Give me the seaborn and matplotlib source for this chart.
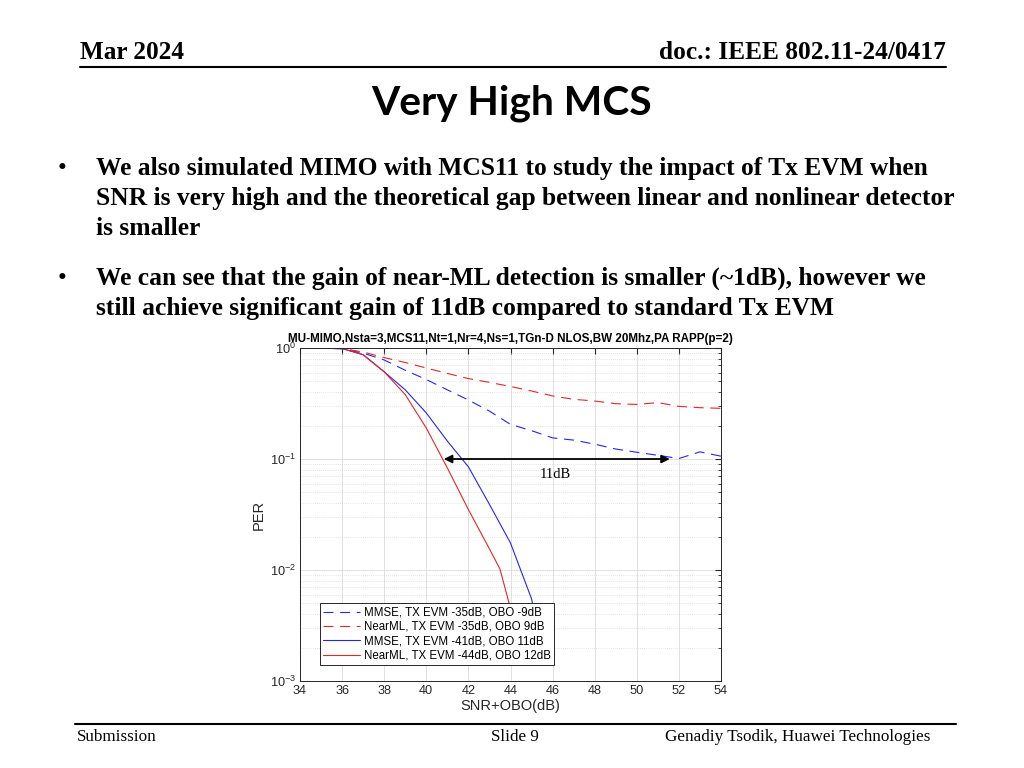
import matplotlib
matplotlib.use("Agg")
import matplotlib.pyplot as plt
import seaborn as sns
from matplotlib.lines import Line2D
from matplotlib.ticker import LogLocator, NullFormatter, FixedLocator

# PER curves
snr_mmse_35 = [34, 35, 36, 37, 38, 39, 40, 41, 42, 43, 44, 45, 46, 47, 48, 49, 50, 51, 52, 53, 54]
per_mmse_35 = [1.0, 1.0, 0.98, 0.9, 0.78, 0.63, 0.52, 0.42, 0.34, 0.27, 0.205, 0.18, 0.155, 0.148,
               0.136, 0.123, 0.115, 0.108, 0.101, 0.116, 0.106]

snr_nml_35 = [34, 35, 36, 37, 38, 39, 40, 41, 42, 43, 44, 45, 46, 47, 48, 49, 50, 51, 52, 53, 54]
per_nml_35 = [1.0, 1.0, 0.99, 0.92, 0.82, 0.74, 0.66, 0.59, 0.53, 0.49, 0.45, 0.41, 0.37, 0.345,
              0.333, 0.315, 0.31, 0.322, 0.298, 0.29, 0.286]

snr_mmse_41 = [34, 35, 36, 37, 38, 39, 40, 41, 42, 43, 44, 45, 45.5]
per_mmse_41 = [1.0, 1.0, 0.99, 0.87, 0.61, 0.42, 0.26, 0.145, 0.085, 0.039, 0.0175, 0.0055, 0.002]

snr_nml_44 = [34, 35, 36, 37, 38, 39, 40, 41, 42, 43, 43.5, 44, 44.5]
per_nml_44 = [1.0, 1.0, 0.99, 0.87, 0.61, 0.38, 0.19, 0.083, 0.035, 0.0155, 0.0102, 0.0045, 0.0015]

labels = ["MMSE, TX EVM -35dB, OBO -9dB", "NearML, TX EVM -35dB, OBO 9dB",
          "MMSE, TX EVM -41dB, OBO 11dB", "NearML, TX EVM -44dB, OBO 12dB"]

x_ticks = [34, 36, 38, 40, 42, 44, 46, 48, 50, 52, 54]
y_ticks = [1e-3, 1e-2, 1e-1, 1e0]
y_ticklabels = ["$10^{-3}$", "$10^{-2}$", "$10^{-1}$", "$10^{0}$"]

sns.set_style("white")
plt.rcParams['font.family'] = ['Liberation Sans', 'DejaVu Sans']
plt.rcParams['text.color'] = 'black'
plt.rcParams['mathtext.default'] = 'regular'

fig = plt.figure(figsize=(10.24, 7.68), dpi=100)

# ---- slide frame ----
serif = ['Liberation Serif', 'DejaVu Serif']
fig.text(80 / 1024, 1 - 59 / 768, "Mar 2024", family=serif, weight='bold', fontsize=18.2,
         va='baseline', ha='left')
fig.text(946 / 1024, 1 - 59 / 768, "doc.: IEEE 802.11-24/0417", family=serif, weight='bold',
         fontsize=18.3, va='baseline', ha='right')
fig.add_artist(Line2D([80 / 1024, 946 / 1024], [1 - 67 / 768, 1 - 67 / 768], color='black', lw=1.5))
fig.text(512 / 1024, 1 - 103 / 768, "Very High MCS", family=['Lato', 'DejaVu Sans'], weight='bold',
         fontsize=29.3, va='center', ha='center')

bullet_lines = [
    (175, "We also simulated MIMO with MCS11 to study the impact of Tx EVM when"),
    (205, "SNR is very high and the theoretical gap between linear and nonlinear detector"),
    (235, "is smaller"),
    (285, "We can see that the gain of near-ML detection is smaller (~1dB), however we"),
    (315, "still achieve significant gain of 11dB compared to standard Tx EVM"),
]
for yb, txt in bullet_lines:
    fig.text(96 / 1024, 1 - yb / 768, txt, family=serif, weight='bold', fontsize=18.35,
             va='baseline', ha='left')
for yb in [175, 285]:
    fig.text(58 / 1024, 1 - yb / 768, "\u2022", family=serif, fontsize=18.3, va='baseline', ha='left')

fig.add_artist(Line2D([75 / 1024, 956 / 1024], [1 - 724 / 768, 1 - 724 / 768], color='black', lw=1.5))
fig.text(77 / 1024, 1 - 741 / 768, "Submission", family=serif, fontsize=12.3, va='baseline', ha='left')
fig.text(515 / 1024, 1 - 741 / 768, "Slide 9", family=serif, fontsize=12.3, va='baseline', ha='center')
fig.text(930 / 1024, 1 - 741 / 768, "Genadiy Tsodik, Huawei Technologies", family=serif, fontsize=12.3,
         va='baseline', ha='right')

# ---- chart ----
ax = fig.add_axes([300 / 1024, 1 - 681 / 768, 421 / 1024, 333 / 768])
blue = "#2626f0"
red = "#e02828"
sns.lineplot(x=snr_mmse_35, y=per_mmse_35, ax=ax, color=blue, lw=0.8, label=labels[0])
sns.lineplot(x=snr_nml_35, y=per_nml_35, ax=ax, color=red, lw=0.8, label=labels[1])
sns.lineplot(x=snr_mmse_41, y=per_mmse_41, ax=ax, color=blue, lw=0.8, label=labels[2])
sns.lineplot(x=snr_nml_44, y=per_nml_44, ax=ax, color=red, lw=0.8, label=labels[3])
for ln in ax.get_lines()[:2]:
    ln.set_linestyle((0, (9, 6)))

ax.set_yscale('log')
ax.set_xlim(34, 54)
ax.set_ylim(1e-3, 1)
ax.xaxis.set_major_locator(FixedLocator(x_ticks))
ax.set_yticks(y_ticks)
ax.set_yticklabels(y_ticklabels)
ax.yaxis.set_minor_locator(LogLocator(base=10, subs=range(2, 10)))
ax.yaxis.set_minor_formatter(NullFormatter())
ax.grid(True, which='major', color='#dcdcdc', lw=0.6)
ax.grid(True, which='minor', axis='y', color='#cfcfcf', lw=0.5, linestyle=(0, (1, 2)))
ax.tick_params(which='both', direction='in', top=True, right=True, colors='#262626')
ax.tick_params(which='major', length=4, labelsize=9.2, pad=3)
ax.tick_params(which='minor', length=2)
for sp in ax.spines.values():
    sp.set_color('#262626')
    sp.set_linewidth(0.7)

ax.set_xlabel("SNR+OBO(dB)", fontsize=10.5, color='#262626', labelpad=1)
ax.set_ylabel("PER", fontsize=10.5, color='#262626', labelpad=3)
ax.set_title("MU-MIMO,Nsta=3,MCS11,Nt=1,Nr=4,Ns=1,TGn-D NLOS,BW 20Mhz,PA RAPP(p=2)",
             fontsize=8.4, weight='bold', pad=4.5)

ax.annotate("", xy=(40.7, 0.1), xytext=(51.7, 0.1),
            arrowprops=dict(arrowstyle='<|-|>', color='black', lw=1.3, mutation_scale=12))
ax.text(46.15, 0.073, "11dB", family=serif, fontsize=10.5, ha='center', va='center')

leg = ax.legend(loc='lower left', bbox_to_anchor=(20 / 421, 16 / 333), fontsize=8.3,
                frameon=True, fancybox=False, framealpha=1, edgecolor='#262626',
                handlelength=3.2, borderpad=0.3, labelspacing=0.2, handletextpad=0.3,
                borderaxespad=0)
leg.get_frame().set_linewidth(0.7)

fig.savefig("out.png", dpi=100)
